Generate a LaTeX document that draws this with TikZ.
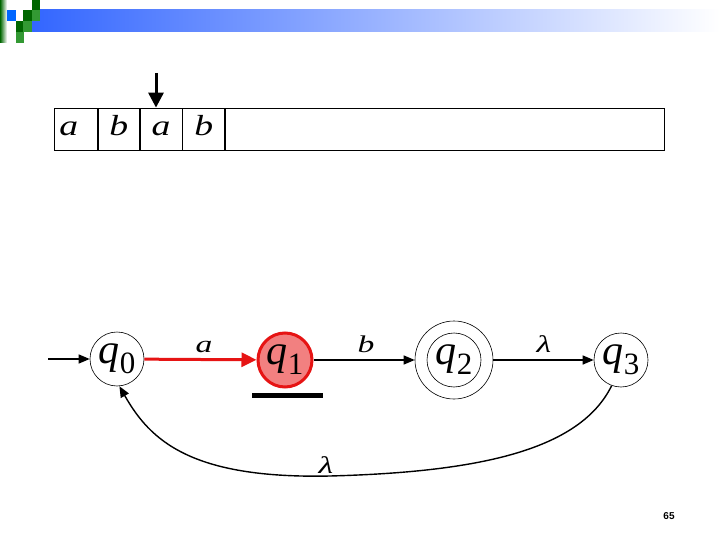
\documentclass[tikz,border=0pt]{standalone}
\usepackage{fontspec}
\setmainfont{Liberation Serif}
\newfontfamily\numfont{Liberation Sans}
\usetikzlibrary{arrows.meta,shapes.geometric}
\definecolor{hdrblue}{RGB}{51,102,255}
\definecolor{dgreen}{RGB}{0,102,0}
\definecolor{mgreen}{RGB}{51,153,51}
\definecolor{sqblue}{RGB}{0,102,255}
\definecolor{qred}{RGB}{230,20,20}
\definecolor{qfill}{RGB}{242,128,128}
\newcommand\stlab[1]{{\fontsize{42}{42}\selectfont\itshape q\hspace{0pt}\raisebox{-10pt}{\upshape\fontsize{31}{31}\selectfont #1}}}
\newcommand\tapelab[1]{{\fontsize{29}{29}\selectfont\itshape\scalebox{1.3}[1]{#1}}}
\newcommand\symlab[1]{{\fontsize{24}{24}\selectfont\itshape\scalebox{1.4}[1]{#1}}}
\begin{document}
\begin{tikzpicture}[x=1pt,y=-1pt,
  cell/.style={draw, line width=0.8pt, minimum height=42pt, inner sep=0pt, anchor=west},
  state/.style={circle, draw, line width=0.6pt, minimum size=54pt, inner sep=0pt},
  arr/.style={line width=1.4pt, -{Triangle[length=11pt,width=9pt]}},
  lab/.style={inner sep=0pt, anchor=base}]
\useasboundingbox (0,0) rectangle (720,540);
% header
\shade[left color=hdrblue, right color=white] (32,10) rectangle (720,32);
\shade[left color=dgreen, right color=white] (0,0) rectangle (7,43);
\fill[dgreen] (32,0) rectangle (40,10);
\fill[sqblue] (7,10) rectangle (16,21);
\fill[dgreen] (23,10) rectangle (32,21);
\fill[mgreen] (32,10) rectangle (40,21);
\fill[dgreen] (16,21) rectangle (23,32);
\fill[mgreen] (23,21) rectangle (32,32);
\fill[mgreen] (16,32) rectangle (24,43);
% tape
\node[cell, minimum width=43pt] (c1) at (54,129) {};
\node[cell, minimum width=41pt] (c2) at (c1.east) {};
\node[cell, minimum width=42pt] (c3) at (c2.east) {};
\node[cell, minimum width=42pt] (c4) at (c3.east) {};
\node[cell, minimum width=439pt] (rest) at (c4.east) {};
\coordinate (tb) at (0,136);
\node[lab] (t1) at ([xshift=-7pt]c1 |- tb) {\tapelab{a}};
\node[lab] (t2) at (c2 |- tb) {\tapelab{b}};
\node[lab] (t3) at (c3 |- tb) {\tapelab{a}};
\node[lab] (t4) at (c4 |- tb) {\tapelab{b}};
\coordinate (h) at (156,73);
\draw[line width=3pt, -{Triangle[length=15pt,width=15pt]}] (h) -- (h |- c3.north);
% states
\node[state] (q0) at (117,359) {\stlab{0}};
\node[state, draw=qred, line width=3pt, fill=qfill, minimum size=54pt] (q1) at (285,360) {\stlab{1}};
\node[state] (q2) at (454,360) {\stlab{2}};
\node[state, minimum size=78pt] (q2o) at (454,360) {};
\node[state] (q3) at (621,360) {\stlab{3}};
\node[fill=black, minimum width=71pt, minimum height=5pt, inner sep=0pt] (bar) at (287.5,395.5) {};
% edges
\coordinate (start) at (48,359);
\draw[arr] (start) -- (q0);
\draw[line width=3pt, qred, -{Triangle[length=15pt,width=14pt]}] (q0) -- (q1);
\draw[arr] (q1) -- (q2o);
\draw[arr] (q2o) -- (q3);
\draw[arr] (q3.250) .. controls (580,450) and (480,472) .. (330,476)
  .. controls (190,479) and (150,440) .. (q0.275);
\node[lab] (la) at (204,352) {\symlab{a}};
\node[lab] (lb) at (366,352) {\symlab{b}};
\node[lab] (ll1) at (544,352) {\symlab{λ}};
\node[lab] (ll2) at (326,473) {\symlab{λ}};
\node (pg) at (669,516) {\numfont\bfseries\fontsize{10}{10}\selectfont 65};
\end{tikzpicture}
\end{document}
